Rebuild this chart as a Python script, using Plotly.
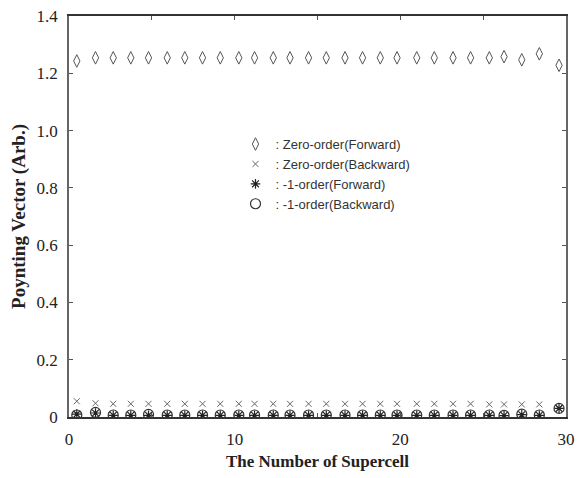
import plotly.graph_objects as go

# Supercell index positions (x)
supercell = [0.47, 1.60, 2.67, 3.73, 4.80, 5.93, 6.99, 8.06, 9.13, 10.25,
             11.20, 12.33, 13.34, 14.46, 15.53, 16.66, 17.72, 18.79, 19.80, 20.99,
             22.05, 23.18, 24.24, 25.37, 26.26, 27.33, 28.39, 29.58]

zero_forward = [1.243, 1.254, 1.254, 1.254, 1.254, 1.254, 1.254, 1.254, 1.254, 1.254,
                1.254, 1.254, 1.254, 1.254, 1.254, 1.254, 1.254, 1.254, 1.254, 1.254,
                1.254, 1.254, 1.254, 1.254, 1.258, 1.247, 1.268, 1.228]

zero_backward = [0.055, 0.048, 0.046, 0.046, 0.046, 0.046, 0.046, 0.046, 0.046, 0.046,
                 0.046, 0.046, 0.046, 0.046, 0.046, 0.046, 0.046, 0.046, 0.046, 0.046,
                 0.046, 0.046, 0.046, 0.044, 0.044, 0.044, 0.044, 0.030]

neg1_forward = [0.010, 0.014, 0.006, 0.006, 0.006, 0.006, 0.006, 0.006, 0.006, 0.006,
                0.006, 0.006, 0.006, 0.006, 0.006, 0.006, 0.006, 0.006, 0.006, 0.006,
                0.006, 0.006, 0.006, 0.006, 0.005, 0.008, 0.006, 0.030]

neg1_backward = [0.007, 0.016, 0.007, 0.007, 0.009, 0.007, 0.007, 0.007, 0.007, 0.007,
                 0.007, 0.007, 0.007, 0.007, 0.007, 0.007, 0.007, 0.007, 0.007, 0.007,
                 0.007, 0.007, 0.007, 0.007, 0.006, 0.010, 0.007, 0.030]

x_tickvals = [0, 5, 10, 15, 20, 25, 30]
x_ticktext = ["0", "", "10", "", "20", "", "30"]
y_tickvals = [0, 0.2, 0.4, 0.6, 0.8, 1.0, 1.2, 1.4]
y_ticktext = ["0", "0.2", "0.4", "0.6", "0.8", "1.0", "1.2", "1.4"]

fig = go.Figure()
fig.add_trace(go.Scatter(
    x=supercell, y=zero_forward, mode="markers", name=": Zero-order(Forward)",
    marker=dict(symbol="diamond-tall-open", size=9, color="#555555", line=dict(width=1))))
fig.add_trace(go.Scatter(
    x=supercell, y=zero_backward, mode="markers", name=": Zero-order(Backward)",
    marker=dict(symbol="x-thin-open", size=6, color="#666666", line=dict(width=1))))
fig.add_trace(go.Scatter(
    x=supercell, y=neg1_forward, mode="markers", name=": -1-order(Forward)",
    marker=dict(symbol="asterisk-open", size=8, color="#222222", line=dict(width=1.2))))
fig.add_trace(go.Scatter(
    x=supercell, y=neg1_backward, mode="markers", name=": -1-order(Backward)",
    marker=dict(symbol="circle-open", size=10, color="#333333", line=dict(width=1.2))))

serif = "Liberation Serif, Times New Roman, serif"

fig.update_layout(
    width=582, height=478,
    margin=dict(l=69, r=7, t=15, b=61),
    paper_bgcolor="white", plot_bgcolor="white",
    showlegend=True,
    legend=dict(x=0.335, y=0.718, xanchor="left", yanchor="top",
                bgcolor="rgba(0,0,0,0)", borderwidth=0, itemwidth=30,
                font=dict(family="Liberation Sans, Arial, sans-serif", size=13, color="#333333"),
                tracegroupgap=0),
    xaxis=dict(range=[0, 30], tickvals=x_tickvals, ticktext=x_ticktext,
               ticks="inside", ticklen=4, tickcolor="#555555",
               showline=True, linecolor="#333333", linewidth=1.8, mirror="ticks",
               showgrid=False, zeroline=False,
               tickfont=dict(family=serif, size=17, color="#222222"),
               ticklabelstandoff=6,
               title=dict(text="<b>The Number of Supercell</b>", standoff=7,
                          font=dict(family=serif, size=17, color="#222222"))),
    yaxis=dict(range=[0, 1.4], tickvals=y_tickvals, ticktext=y_ticktext,
               ticks="inside", ticklen=4, tickcolor="#555555",
               showline=True, linecolor="#666666", linewidth=1.5, mirror="ticks",
               showgrid=False, zeroline=False,
               tickfont=dict(family=serif, size=17, color="#222222"),
               ticklabelstandoff=6,
               title=dict(text="<b>Poynting Vector (Arb.)</b>", standoff=6,
                          font=dict(family=serif, size=19, color="#222222"))),
)

fig.write_html("out.html")
